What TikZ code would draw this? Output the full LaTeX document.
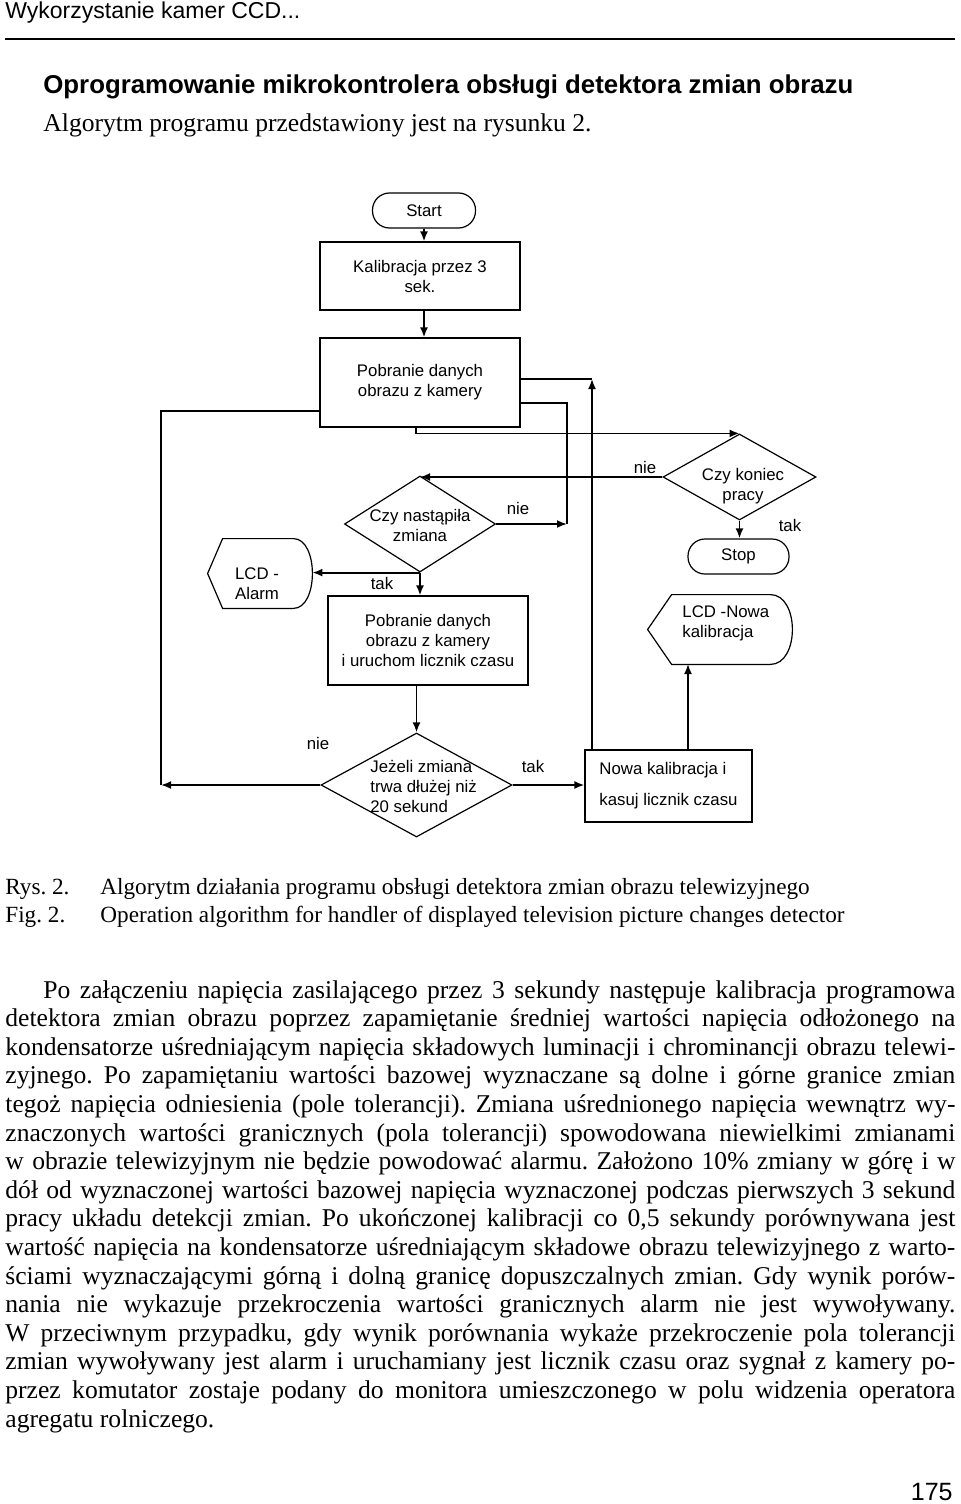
\documentclass[tikz,border=0pt]{standalone}
\usepackage{fontspec}
\setmainfont{Liberation Serif}
\setsansfont{Liberation Sans}
\usepackage{tikz}
\usetikzlibrary{shapes,arrows.meta,positioning,calc}
\frenchspacing
\newcommand{\flowfont}{\fontsize{8.4pt}{10pt}\selectfont\sffamily}
\newcommand{\bodyfont}{\fontsize{12.8pt}{14.3pt}\selectfont}
\newcommand{\capfont}{\fontsize{11.6pt}{13pt}\selectfont}
\newcommand{\bodyline}[1]{\hbox to\hsize{#1}}
% display shape: pointed left side, rounded right side
\newcommand{\dispshape}[3]{\draw[line width=0.6pt] (#1.west) -- ($(#1.north west)+(#2,0)$) -- ($(#1.north east)+(-#3,0)$) .. controls ($(#1.north east)+(#3/3,0)$) and ($(#1.south east)+(#3/3,0)$) .. ($(#1.south east)+(-#3,0)$) -- ($(#1.south west)+(#2,0)$) -- cycle;}
\tikzstyle{block} = [rectangle, draw, line width=0.6pt, align=center, font=\flowfont, inner sep=2pt]
\tikzstyle{term} = [rectangle, draw, rounded corners=8.5pt, line width=0.6pt, font=\flowfont, minimum height=17.5pt]
\tikzstyle{decision} = [diamond, draw, line width=0.6pt, inner sep=0pt]
\tikzstyle{disp} = [rectangle, inner sep=0pt]
\tikzstyle{txt} = [font=\flowfont, align=center, inner sep=0pt]
\tikzstyle{lbl} = [font=\flowfont, inner sep=0pt]
\tikzstyle{line} = [draw, line width=0.6pt]
\tikzstyle{arr} = [draw, line width=0.9pt, -{Latex[length=5pt,width=4pt]}]
\begin{document}
\begin{tikzpicture}[x=0.5pt, y=-0.5pt]
    \useasboundingbox (0,0) rectangle (960,1504);
    % page head
    \node[anchor=base west, inner sep=0pt, font=\fontsize{11.5pt}{13pt}\selectfont\sffamily] (hdr) at (5,19) {Wykorzystanie kamer CCD...};
    \coordinate (hl) at (5,39);
    \coordinate (hr) at (955,39);
    \draw[line width=0.75pt] (hl) -- (hr);
    \node[anchor=base west, inner sep=0pt, font=\fontsize{12.9pt}{15pt}\selectfont\sffamily\bfseries] (tyt) at (43,94) {Oprogramowanie mikrokontrolera obsługi detektora zmian obrazu};
    \node[anchor=base west, inner sep=0pt, font=\bodyfont] (wst) at (43,132) {Algorytm programu przedstawiony jest na rysunku 2.};
    % flowchart
    \node[term, minimum width=51.5pt] (st) at (424,210.5) {Start};
    \node[block, minimum width=100pt, minimum height=34pt] (kal) at (420,276) {Kalibracja przez 3\\sek.};
    \node[block, minimum width=100pt, minimum height=44.5pt] (pob1) at (420,382.5) {Pobranie danych\\obrazu z kamery};
    \node[decision, minimum width=75.5pt, minimum height=48pt] (zm) at (420,524) {};
    \node[txt] (zmt) at (420,525) {Czy nastąpiła\\zmiana};
    \node[disp, minimum width=52pt, minimum height=34.5pt] (lcda) at (260,573.5) {};
    \node[txt] (lcdat) at (257,583.5) {LCD -\\Alarm};
    \node[block, minimum width=100pt, minimum height=44.5pt] (pob2) at (428,640.5) {Pobranie danych\\obrazu z kamery\\i uruchom licznik czasu};
    \node[decision, minimum width=95.5pt, minimum height=52pt] (jz) at (416.5,785) {};
    \node[txt, align=left, anchor=west] (jzt) at (370,786) {Jeżeli zmiana\\trwa dłużej niż\\20 sekund};
    \node[block, align=left, minimum width=83.5pt, minimum height=36pt] (nowa) at (668.5,786) {Nowa kalibracja i\\[5.5pt]kasuj licznik czasu};
    \node[decision, minimum width=76.5pt, minimum height=43pt] (kon) at (739.5,477) {};
    \node[txt] (kont) at (743,486) {Czy koniec\\pracy};
    \node[term, minimum width=50.5pt] (stop) at (738.5,556.5) {Stop};
    \node[disp, minimum width=72pt, minimum height=34.5pt] (lcdn) at (720,629.5) {};
    \node[txt, align=left, anchor=west] (lcdnt) at (682,623) {LCD -Nowa\\kalibracja};
    \dispshape{lcda}{15}{19}
    \dispshape{lcdn}{24}{22}
    \coordinate (c1) at (567,403);
    \coordinate (c2) at (161,411);
    \coordinate (c3) at (592,379);
    \coordinate (c4) at (688,664);
    \draw[arr] (st.south) -- (st.south |- kal.north);
    \draw[arr] (kal.south -| st.south) -- (pob1.north -| st.south);
    \draw[arr] ($(pob1.south)+(-4,0)$) |- (kon.north);
    \draw[arr] (kon.west) -- (kon.west -| zm.north);
    \draw[arr] (kon.south) -- (kon.south |- stop.north);
    \draw[arr] (zm.east) -- (zm.east -| c1);
    \draw[line] (zm.east -| c1) -- (c1) -- (c1 -| pob1.east);
    \draw[arr] (zm.south) -- (pob2.north -| zm.south);
    \draw[arr] (zm.south) -- (zm.south -| lcda.east);
    \draw[arr] (pob2.south -| jz.north) -- (jz.north);
    \draw[arr] (jz.west) -- (jz.west -| c2);
    \draw[line] (jz.west -| c2) -- (c2) -- (c2 -| pob1.west);
    \draw[arr] (jz.east) -- (jz.east -| nowa.west);
    \draw[arr] (nowa.north -| c3) -- (c3);
    \draw[line] (c3) -- (c3 -| pob1.east);
    \draw[arr] (nowa.north -| c4) -- (c4);
    \node[lbl] (nie1) at (645,467) {nie};
    \node[lbl] (nie2) at (518,508) {nie};
    \node[lbl] (tak1) at (382,583) {tak};
    \node[lbl] (tak3) at (790,525) {tak};
    \node[lbl] (nie3) at (318,743) {nie};
    \node[lbl] (tak2) at (533,766) {tak};
    % caption
    \node[anchor=base west, inner sep=0pt, font=\capfont] (rys) at (5,894) {Rys. 2.};
    \node[anchor=base west, inner sep=0pt, font=\capfont] (rysopis) at (100,894) {Algorytm działania programu obsługi detektora zmian obrazu telewizyjnego};
    \node[anchor=base west, inner sep=0pt, font=\capfont] (fig) at (5,922) {Fig. 2.};
    \node[anchor=base west, inner sep=0pt, font=\capfont] (figopis) at (100,922) {Operation algorithm for handler of displayed television picture changes detector};
    % body text
    \node[anchor=north west, inner sep=0pt, font=\bodyfont] (tekst) at (5,980) {\vbox{\hsize=475pt
        \bodyline{\hskip19pt Po załączeniu napięcia zasilającego przez 3 sekundy następuje kalibracja programowa}%
        \bodyline{detektora zmian obrazu poprzez zapamiętanie średniej wartości napięcia odłożonego na}%
        \bodyline{kondensatorze uśredniającym napięcia składowych luminacji i chrominancji obrazu telewi-}%
        \bodyline{zyjnego. Po zapamiętaniu wartości bazowej wyznaczane są dolne i górne granice zmian}%
        \bodyline{tegoż napięcia odniesienia (pole tolerancji). Zmiana uśrednionego napięcia wewnątrz wy-}%
        \bodyline{znaczonych wartości granicznych (pola tolerancji) spowodowana niewielkimi zmianami}%
        \bodyline{w obrazie telewizyjnym nie będzie powodować alarmu. Założono 10\% zmiany w górę i w}%
        \bodyline{dół od wyznaczonej wartości bazowej napięcia wyznaczonej podczas pierwszych 3 sekund}%
        \bodyline{pracy układu detekcji zmian. Po ukończonej kalibracji co 0,5 sekundy porównywana jest}%
        \bodyline{wartość napięcia na kondensatorze uśredniającym składowe obrazu telewizyjnego z warto-}%
        \bodyline{ściami wyznaczającymi górną i dolną granicę dopuszczalnych zmian. Gdy wynik porów-}%
        \bodyline{nania nie wykazuje przekroczenia wartości granicznych alarm nie jest wywoływany.}%
        \bodyline{W przeciwnym przypadku, gdy wynik porównania wykaże przekroczenie pola tolerancji}%
        \bodyline{zmian wywoływany jest alarm i uruchamiany jest licznik czasu oraz sygnał z kamery po-}%
        \bodyline{przez komutator zostaje podany do monitora umieszczonego w polu widzenia operatora}%
        \hbox{agregatu rolniczego.}}};
    \node[anchor=base east, inner sep=0pt, font=\fontsize{12.5pt}{14pt}\selectfont\sffamily] (nr) at (953,1500) {175};
\end{tikzpicture}
\end{document}
